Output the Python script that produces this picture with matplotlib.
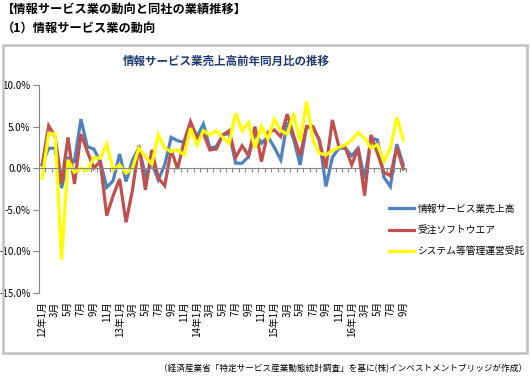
import matplotlib.pyplot as plt
import numpy as np
from matplotlib.patches import Rectangle

plt.rcParams['font.family'] = ['Noto Sans CJK JP', 'DejaVu Sans']

# data (percent, year-on-year), monthly Jan 2012 - Sep 2016
months = []
for y in range(12, 17):
    for m in range(1, 13):
        if y == 16 and m > 9:
            break
        months.append((y, m))

sales = [0.5, 2.4, 2.4, -2.4, 1.2, 0.8, 5.9, 2.6, 2.3, 0.8, -2.3, -1.5, 1.7, -1.6, 1.0,
         2.4, -0.8, 0.6, -1.4, 0.4, 3.7, 3.3, 3.1, 5.4, 3.8, 5.3, 2.4, 2.6, 4.0,
         4.2, 0.6, 0.6, 1.4, 4.3, 3.0, 3.8, 2.5, 1.0, 5.5, 3.5, 0.4, 5.0, 4.8,
         3.4, -2.2, 1.3, 2.4, 2.4, 1.5, 2.4, -1.3, 3.6, 3.4, -1.1, -2.2, 2.9, 0.4]
software = [0.4, 5.1, 3.8, -1.8, 3.7, -1.9, 4.1, 2.0, 0.0, 0.8, -5.7, -3.3, -1.3, -6.5, -2.6,
            2.7, -2.6, 2.2, -1.2, -2.1, 2.2, -0.1, 3.2, 5.6, 3.6, 4.2, 2.2, 2.3, 4.0,
            4.5, 1.3, 2.7, 1.5, 5.0, 0.8, 4.3, 4.6, 3.8, 6.5, 3.9, 1.5, 5.0, 5.0,
            3.3, 0.0, 5.8, 2.6, 2.5, 0.4, 2.4, -3.3, 4.0, 1.8, -0.5, -0.9, 2.5, -0.1]
system = [-1.2, 4.2, 4.1, -11.0, 1.0, -0.5, 0.0, -0.3, 1.3, 1.2, 2.9, -0.2, 0.4, -0.6, 0.0,
          2.4, 1.4, 0.5, 4.0, 2.4, 2.0, 2.2, 1.6, 4.8, 2.8, 4.5, 4.0, 4.5, 3.7,
          3.0, 6.6, 4.5, 5.5, 2.4, 5.0, 3.5, 5.9, 4.5, 4.1, 6.6, 3.2, 8.0, 3.3,
          1.8, 1.6, 2.1, 2.5, 2.8, 3.4, 4.3, 3.6, 2.4, 2.8, 0.8, 2.4, 6.1, 3.4]

series_names = ['情報サービス業売上高', '受注ソフトウエア', 'システム等管理運営受託']
colors = ['#4F81BD', '#C0504D', '#FFFF00']

labels = [f'{y}年{m}月' if m == 1 else f'{m}月' for (y, m) in months]

W, H = 530, 388
fig = plt.figure(figsize=(W / 100, H / 100), dpi=100)

# headings
fig.text(2 / W, 1 - 9 / H, '【情報サービス業の動向と同社の業績推移】', fontsize=8.8,
         fontweight='bold', va='center', ha='left')
fig.text(2 / W, 1 - 28 / H, '（1）情報サービス業の動向', fontsize=8.8,
         fontweight='bold', va='center', ha='left')

# chart frame
fig.patches.append(Rectangle((3 / W, 1 - 353 / H), 524 / W, 308 / H,
                             transform=fig.transFigure, fill=False,
                             edgecolor='#C0C0C0', lw=1.8))

fig.text(226 / W, 1 - 61 / H, '情報サービス業売上高前年同月比の推移', fontsize=8.3,
         fontweight='bold', color='#1F3A6E', ha='center', va='center')

ax = fig.add_axes([39 / W, 1 - 293 / H, 367.5 / W, 208 / H])
x = np.arange(len(months))
for vals, name, c in zip([sales, software, system], series_names, colors):
    ax.plot(x, vals, color=c, lw=2.3, label=name, solid_joinstyle='miter')

ax.set_xlim(-0.5, len(months) - 0.5)
ax.set_ylim(-15, 10)
ax.set_yticks([10, 5, 0, -5, -10, -15])
ax.set_yticklabels([f'{v:.1f}%' for v in [10, 5, 0, -5, -10, -15]], fontsize=7)
ax.tick_params(axis='y', direction='out', length=4, color='#868686', pad=2)

for s in ['top', 'right']:
    ax.spines[s].set_visible(False)
ax.spines['left'].set_color('#868686')
ax.spines['bottom'].set_position(('data', 0))
ax.spines['bottom'].set_color('#868686')
ax.set_xticks(np.arange(-0.5, len(months), 1.0))
ax.set_xticklabels([])
ax.tick_params(axis='x', direction='out', length=3, color='#868686')

sec = ax.secondary_xaxis(0.0)
sec.spines['bottom'].set_visible(False)
sec.set_xticks(x[::2])
sec.set_xticklabels(labels[::2], rotation=90, fontsize=7, va='top', ha='center')
sec.tick_params(axis='x', length=0, pad=6)

fig.legend(loc='upper left', bbox_to_anchor=(385 / W, 1 - 200 / H), frameon=False,
           fontsize=7, handlelength=2.6, handletextpad=0.35, labelspacing=1.15,
           borderaxespad=0)

fig.text(527 / W, 1 - 369 / H,
         '（経済産業省「特定サービス産業動態統計調査」を基に(株)インベストメントブリッジが作成）',
         fontsize=6.2, ha='right', va='center')

fig.savefig('out.png', dpi=100)
